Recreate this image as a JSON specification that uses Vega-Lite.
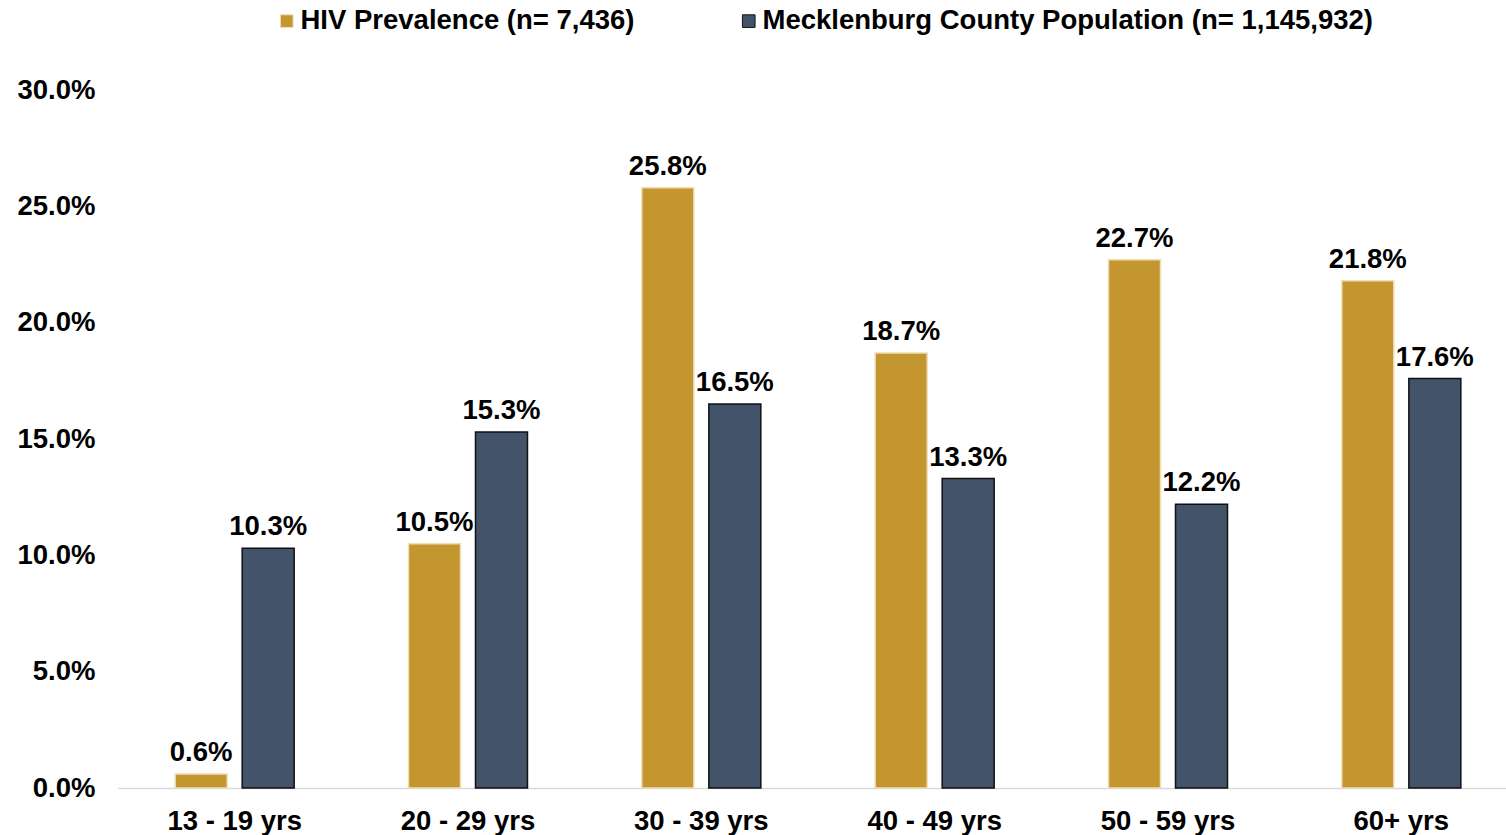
{
  "$schema": "https://vega.github.io/schema/vega-lite/v6.json",
  "autosize": "none",
  "width": 1400,
  "height": 698,
  "padding": {"left": 118, "top": 90, "right": 0, "bottom": 47},
  "background": "white",
  "config": {
    "view": {"stroke": null},
    "font": "Liberation Sans"
  },
  "data": {
    "values": [
      {"age": "13 - 19 yrs", "series": "HIV Prevalence (n= 7,436)", "value": 0.006},
      {"age": "13 - 19 yrs", "series": "Mecklenburg County Population (n= 1,145,932)", "value": 0.103},
      {"age": "20 - 29 yrs", "series": "HIV Prevalence (n= 7,436)", "value": 0.105},
      {"age": "20 - 29 yrs", "series": "Mecklenburg County Population (n= 1,145,932)", "value": 0.153},
      {"age": "30 - 39 yrs", "series": "HIV Prevalence (n= 7,436)", "value": 0.258},
      {"age": "30 - 39 yrs", "series": "Mecklenburg County Population (n= 1,145,932)", "value": 0.165},
      {"age": "40 - 49 yrs", "series": "HIV Prevalence (n= 7,436)", "value": 0.187},
      {"age": "40 - 49 yrs", "series": "Mecklenburg County Population (n= 1,145,932)", "value": 0.133},
      {"age": "50 - 59 yrs", "series": "HIV Prevalence (n= 7,436)", "value": 0.227},
      {"age": "50 - 59 yrs", "series": "Mecklenburg County Population (n= 1,145,932)", "value": 0.122},
      {"age": "60+ yrs", "series": "HIV Prevalence (n= 7,436)", "value": 0.218},
      {"age": "60+ yrs", "series": "Mecklenburg County Population (n= 1,145,932)", "value": 0.176}
    ]
  },
  "encoding": {
    "x": {
      "field": "age", "type": "nominal", "sort": null,
      "scale": {"paddingInner": 0.49, "paddingOuter": 0.245},
      "axis": {
        "title": null, "labelAngle": 0, "ticks": false,
        "domainColor": "#d9d9d9", "domainWidth": 1.5,
        "labelFont": "Liberation Sans", "labelFontWeight": "bold", "labelFontSize": 27.5,
        "labelColor": "#000000", "labelPadding": 19
      }
    },
    "xOffset": {
      "field": "series", "type": "nominal", "sort": null,
      "scale": {"paddingInner": 0.224}
    },
    "y": {
      "field": "value", "type": "quantitative",
      "scale": {"domain": [0, 0.3], "nice": false},
      "axis": {
        "title": null, "format": ".1%", "values": [0, 0.05, 0.1, 0.15, 0.2, 0.25, 0.3],
        "grid": false, "ticks": false, "domain": false,
        "labelFont": "Liberation Sans", "labelFontWeight": "bold", "labelFontSize": 27.5,
        "labelColor": "#000000", "labelPadding": 23
      }
    }
  },
  "layer": [
    {
      "mark": {"type": "bar", "strokeWidth": 1.5},
      "encoding": {
        "color": {
          "field": "series", "type": "nominal", "sort": null,
          "scale": {"range": ["#C3962F", "#435369"]},
          "legend": {
            "title": null, "orient": "none", "direction": "horizontal",
            "legendX": 155, "legendY": -83, "padding": 0,
            "symbolType": "square", "symbolSize": 160, "symbolStrokeWidth": 1,
            "labelFont": "Liberation Sans", "labelFontWeight": "bold", "labelFontSize": 27.5,
            "labelColor": "#000000", "labelOffset": 0, "columnPadding": 100,
            "labelLimit": 800
          }
        },
        "stroke": {
          "field": "series", "type": "nominal", "sort": null,
          "scale": {"range": ["#EEDDB5", "#111111"]},
          "legend": null
        }
      }
    },
    {
      "mark": {
        "type": "text", "baseline": "bottom", "dy": -7,
        "font": "Liberation Sans", "fontWeight": "bold", "fontSize": 27.5, "color": "#000000"
      },
      "encoding": {
        "text": {"field": "value", "type": "quantitative", "format": ".1%"}
      }
    }
  ]
}
